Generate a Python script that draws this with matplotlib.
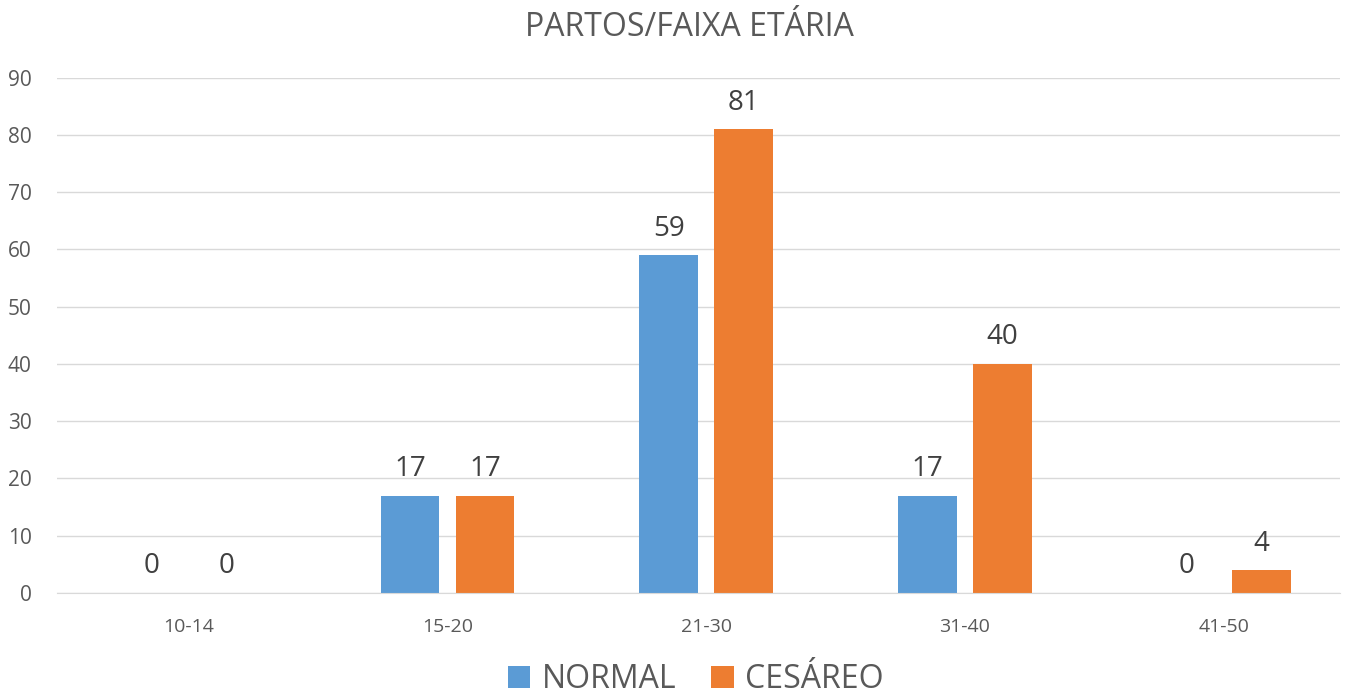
import matplotlib.pyplot as plt
import numpy as np

# Dados
faixas = ['10-14', '15-20', '21-30', '31-40', '41-50']
normal = [0, 17, 59, 17, 0]
cesareo = [0, 17, 81, 40, 4]

plt.rcParams['font.family'] = ['Open Sans', 'DejaVu Sans']
cinza = '#595959'

fig = plt.figure(figsize=(13.51, 7), dpi=100)
ax = fig.add_axes([0.042, 0.153, 0.95, 0.736])

x = np.arange(len(faixas))
w = 0.227
off = 0.145
b1 = ax.bar(x - off, normal, w, color='#5B9BD5', label='NORMAL')
b2 = ax.bar(x + off, cesareo, w, color='#ED7D31', label='CESÁREO')

for barras in (b1, b2):
    for b in barras:
        ax.annotate(str(int(b.get_height())), (b.get_x() + b.get_width() / 2, b.get_height()),
                    xytext=(0, 9), textcoords='offset points', ha='center', va='bottom',
                    fontsize=20, color='#404040')

ax.set_xlim(-0.51, 4.45)
ax.set_ylim(0, 90)
ax.set_yticks(range(0, 91, 10))
ax.set_xticks(x)
ax.set_xticklabels(faixas)
ax.tick_params(axis='y', length=0, labelsize=15, labelcolor=cinza, pad=18)
ax.tick_params(axis='x', length=0, labelsize=14, labelcolor=cinza, pad=18)
ax.grid(axis='y', color='#D9D9D9', linewidth=1)
ax.set_axisbelow(True)
for s in ['top', 'right', 'left']:
    ax.spines[s].set_visible(False)
ax.spines['bottom'].set_color('#D9D9D9')

fig.suptitle('PARTOS/FAIXA ETÁRIA', x=0.51, y=0.985, fontsize=23, color=cinza)
fig.legend(loc='lower center', ncol=2, frameon=False, fontsize=23, labelcolor=cinza,
           bbox_to_anchor=(0.515, -0.036), handlelength=0.7, handleheight=0.7, columnspacing=1.1,
           handletextpad=0.35)

plt.savefig('out.png')
